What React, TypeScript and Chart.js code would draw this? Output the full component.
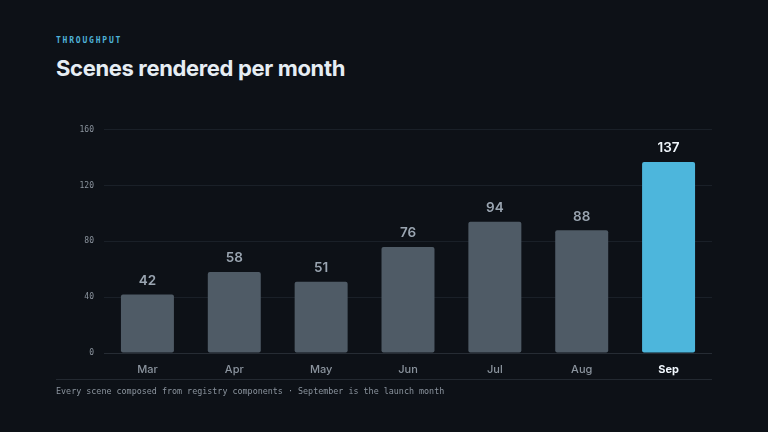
import { useEffect, useRef } from 'react';
import { Chart, registerables } from 'chart.js';
Chart.register(...registerables);

const MONTHS = ['Mar', 'Apr', 'May', 'Jun', 'Jul', 'Aug', 'Sep'];
const SCENES = [42, 58, 51, 76, 94, 88, 137];
const Y_TICKS = [0, 40, 80, 120, 160];
const HIGHLIGHT = 'Sep';

const BG = '#0d1117';
const GREY_BAR = '#4f5b66';
const BLUE_BAR = '#4db6dc';
const MONO = '"DejaVu Sans Mono", monospace';
const SANS = 'Inter, "Noto Sans", sans-serif';

// draws the number above every bar
const valueLabels = {
  id: 'valueLabels',
  afterDatasetsDraw(chart: Chart) {
    const { ctx } = chart;
    const meta = chart.getDatasetMeta(0);
    ctx.save();
    ctx.textAlign = 'center';
    ctx.textBaseline = 'bottom';
    meta.data.forEach((bar: any, i: number) => {
      const hi = MONTHS[i] === HIGHLIGHT;
      ctx.font = `600 13.5px ${SANS}`;
      ctx.fillStyle = hi ? '#f0f6fc' : '#9aa5b1';
      ctx.fillText(String(SCENES[i]), bar.x, bar.y - 7);
    });
    ctx.restore();
  },
};

function SceneChart() {
  const ref = useRef<HTMLCanvasElement>(null);
  const ci = useRef<Chart | null>(null);

  useEffect(() => {
    const canvas = ref.current;
    if (!canvas) return;
    ci.current?.destroy();

    ci.current = new Chart(canvas, {
      type: 'bar',
      data: {
        labels: MONTHS,
        datasets: [{
          data: SCENES,
          backgroundColor: MONTHS.map(m => (m === HIGHLIGHT ? BLUE_BAR : GREY_BAR)),
          borderRadius: 2,
          borderSkipped: false,
          barPercentage: 0.61,
          categoryPercentage: 1,
        }],
      },
      options: {
        responsive: false,
        animation: false,
        layout: { padding: { top: 14, right: 0, left: 0, bottom: 0 } },
        plugins: { legend: { display: false }, tooltip: { enabled: false } },
        scales: {
          x: {
            grid: { display: false },
            border: { color: '#262c34' },
            afterFit: (s: any) => { s.height = 27; },
            ticks: {
              padding: 2,
              color: (c: any) => (MONTHS[c.index] === HIGHLIGHT ? '#f0f6fc' : '#8b949e'),
              font: (c: any) => ({
                family: SANS,
                size: 11,
                weight: MONTHS[c.index] === HIGHLIGHT ? 700 : 500,
              }),
            },
          },
          y: {
            min: 0,
            max: 160,
            afterFit: (s: any) => { s.width = 48; },
            afterBuildTicks: (s: any) => { s.ticks = Y_TICKS.map(v => ({ value: v })); },
            grid: { color: '#1a2028', drawTicks: false },
            border: { display: false },
            ticks: {
              padding: 10,
              color: '#8b949e',
              font: { family: MONO, size: 8 },
            },
          },
        },
      },
      plugins: [valueLabels],
    });

    return () => { ci.current?.destroy(); ci.current = null; };
  }, []);

  return <canvas ref={ref} width={656} height={265} style={{ width: 656, height: 265, display: 'block' }} />;
}

export default function App() {
  return (
    <div style={{ position: 'fixed', inset: 0, width: 768, height: 432, background: BG, overflow: 'hidden' }}>
      <div style={{
        position: 'absolute', left: 56, top: 36, fontFamily: MONO, fontSize: 8, fontWeight: 700,
        letterSpacing: 1.8, color: '#4fb3d9',
      }}>THROUGHPUT</div>
      <div style={{
        position: 'absolute', left: 56, top: 53, fontFamily: SANS, fontSize: 22, fontWeight: 700,
        letterSpacing: -0.35, color: '#e6edf3', lineHeight: '30px',
      }}>Scenes rendered per month</div>
      <div style={{ position: 'absolute', left: 56, top: 115 }}>
        <SceneChart />
      </div>
      <div style={{ position: 'absolute', left: 56, top: 379, width: 656, height: 1, background: '#232931' }} />
      <div style={{
        position: 'absolute', left: 56, top: 385, fontFamily: MONO, fontSize: 8.4, color: '#8b949e',
        lineHeight: '12px', whiteSpace: 'nowrap',
      }}>Every scene composed from registry components · September is the launch month</div>
    </div>
  );
}
